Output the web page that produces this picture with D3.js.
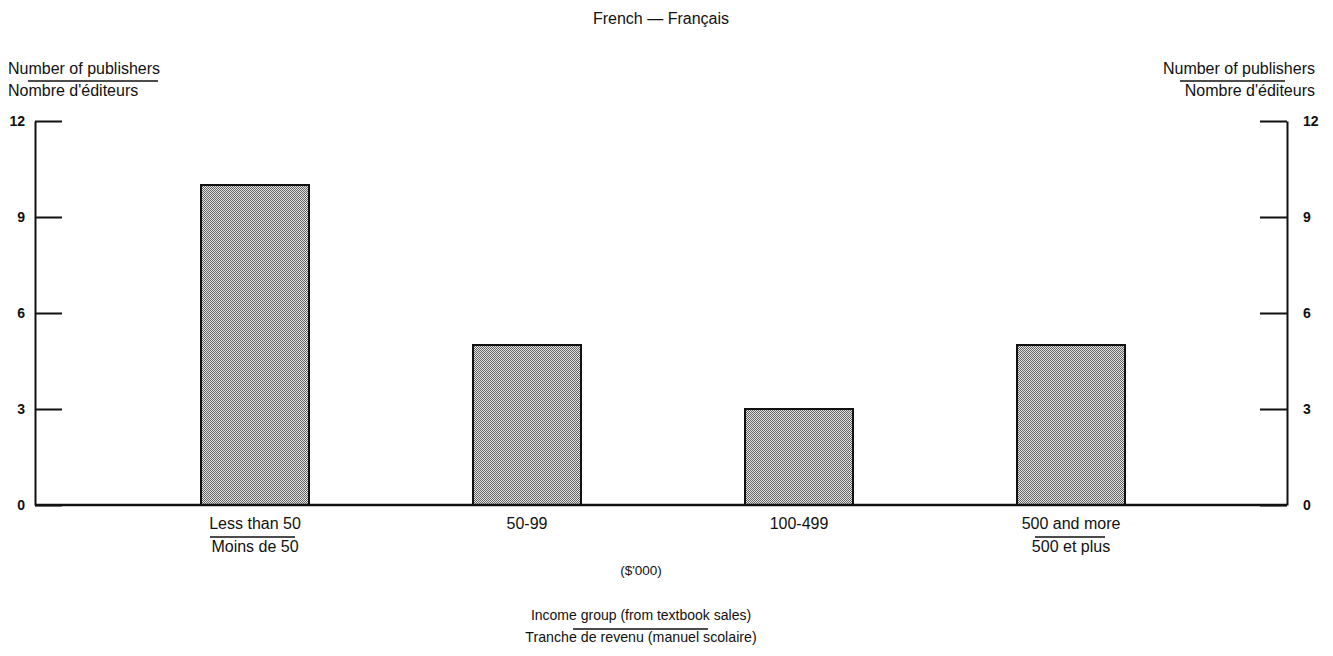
<!DOCTYPE html>
<html>
<head>
<meta charset="utf-8">
<script src="https://cdn.jsdelivr.net/npm/d3@7"></script>
<style>
body { margin: 0; background: #fff; }
svg text { font-family: "Liberation Sans", Arial, sans-serif; fill: #111; }
.axis path, .axis line { stroke: #111; stroke-width: 2; }
.axis text { font-size: 14px; }
</style>
</head>
<body>
<div id="chart"></div>
<script>
// data
var categories = ["Less than 50", "50-99", "100-499", "500 and more"];
var categoriesFr = ["Moins de 50", "", "", "500 et plus"];
var publishers = [10, 5, 3, 5];
var yTicks = [0, 3, 6, 9, 12];

var width = 1333, height = 656;
var padding = {top: 121, bottom: 151, left: 35, right: 46};

var svg = d3.select("#chart").append("svg").attr("width", width).attr("height", height);

// halftone fill for the bars
var pat = svg.append("defs").append("pattern")
	.attr("id", "dots")
	.attr("width", 2).attr("height", 2)
	.attr("patternUnits", "userSpaceOnUse");
pat.append("rect").attr("width", 2).attr("height", 2).attr("fill", "#e2e2e2");
pat.append("rect").attr("width", 1).attr("height", 1).attr("fill", "#666");
pat.append("rect").attr("x", 1).attr("y", 1).attr("width", 1).attr("height", 1).attr("fill", "#666");

var y = d3.scaleLinear().domain([0, 12]).range([height - padding.bottom, padding.top]);
var x = d3.scaleBand().domain(categories).range([119, 1207]).paddingInner(0.603).paddingOuter(0.3015);

var xRight = width - padding.right;

// left axis
svg.append("g")
	.attr("class", "axis")
	.attr("transform", "translate(" + padding.left + ",0)")
	.call(d3.axisLeft(y).tickValues(yTicks).tickSizeInner(-27).tickSizeOuter(0).tickPadding(10))
	.call(function(g){ g.selectAll("text").attr("font-weight", "bold"); });

// right axis
svg.append("g")
	.attr("class", "axis")
	.attr("transform", "translate(" + xRight + ",0)")
	.call(d3.axisRight(y).tickValues(yTicks).tickSizeInner(-27).tickSizeOuter(0).tickPadding(16))
	.call(function(g){ g.selectAll("text").attr("font-weight", "bold"); });

// bars
svg.append("g").selectAll("rect")
	.data(publishers)
	.enter().append("rect")
	.attr("x", function(d, i){ return x(categories[i]); })
	.attr("width", x.bandwidth())
	.attr("y", function(d){ return y(d); })
	.attr("height", function(d){ return y(0) - y(d); })
	.attr("fill", "url(#dots)")
	.attr("stroke", "#111")
	.attr("stroke-width", 2);

// baseline
svg.append("line")
	.attr("x1", padding.left).attr("x2", xRight)
	.attr("y1", y(0)).attr("y2", y(0))
	.style("stroke", "#111").style("stroke-width", 2.5);

// category labels
var ul = [[-45, 40], null, null, [-36, 34]];
categories.forEach(function(c, i){
	var cx = x(c) + x.bandwidth() / 2;
	svg.append("text").attr("x", cx).attr("y", 529)
		.attr("text-anchor", "middle").attr("font-size", "16px").text(c);
	if (categoriesFr[i] != "") {
		svg.append("line")
			.attr("x1", cx + ul[i][0]).attr("x2", cx + ul[i][1])
			.attr("y1", 537).attr("y2", 537)
			.style("stroke", "#111").style("stroke-width", 1.5);
		svg.append("text").attr("x", cx).attr("y", 552)
			.attr("text-anchor", "middle").attr("font-size", "16px").text(categoriesFr[i]);
	}
});

svg.append("text").attr("x", 641).attr("y", 575)
	.attr("text-anchor", "middle").attr("font-size", "13.5px").text("($'000)");

// x axis title
svg.append("text").attr("x", 641).attr("y", 620)
	.attr("text-anchor", "middle").attr("font-size", "14px").text("Income group (from textbook sales)");
svg.append("line").attr("x1", 573).attr("x2", 708).attr("y1", 629).attr("y2", 629)
	.style("stroke", "#111").style("stroke-width", 1.5);
svg.append("text").attr("x", 641).attr("y", 642)
	.attr("text-anchor", "middle").attr("font-size", "14.2px").text("Tranche de revenu (manuel scolaire)");

// y axis titles
svg.append("text").attr("x", 8).attr("y", 74).attr("font-size", "16px").text("Number of publishers");
svg.append("line").attr("x1", 28).attr("x2", 158).attr("y1", 81).attr("y2", 81)
	.style("stroke", "#111").style("stroke-width", 1.5);
svg.append("text").attr("x", 8).attr("y", 96).attr("font-size", "16px").text("Nombre d'éditeurs");

svg.append("text").attr("x", 1315).attr("y", 74).attr("text-anchor", "end").attr("font-size", "16px").text("Number of publishers");
svg.append("line").attr("x1", 1180).attr("x2", 1285).attr("y1", 81).attr("y2", 81)
	.style("stroke", "#111").style("stroke-width", 1.5);
svg.append("text").attr("x", 1315).attr("y", 96).attr("text-anchor", "end").attr("font-size", "16px").text("Nombre d'éditeurs");

// title
svg.append("text").attr("x", 661).attr("y", 24)
	.attr("text-anchor", "middle").attr("font-size", "16px").text("French — Français");
</script>
</body>
</html>
